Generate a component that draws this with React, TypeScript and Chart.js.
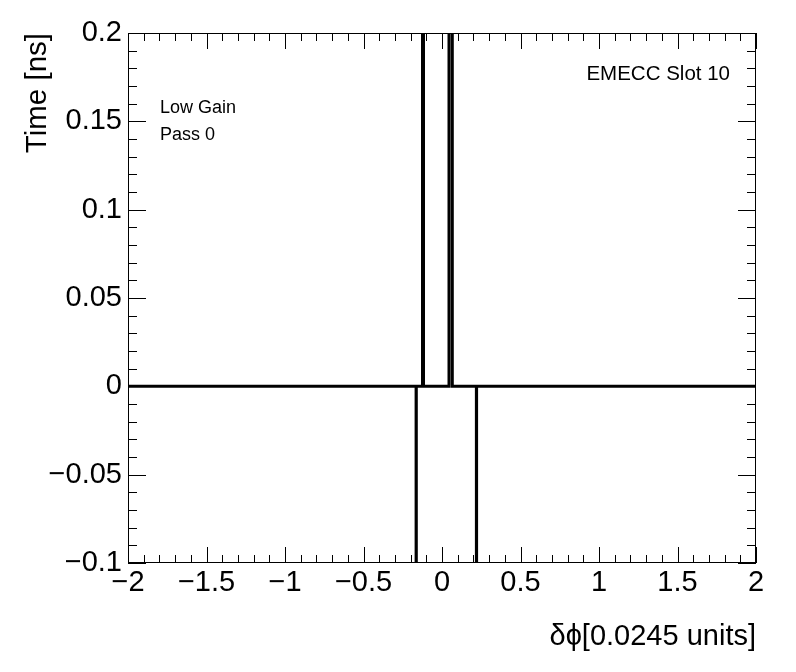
import React, { useEffect, useRef } from "react";
import { Chart, registerables } from "chart.js";

Chart.register(...registerables);

// Histogram bins that are non-zero (edges in δφ units, values off-scale)
const binLo = [-0.1650, -0.1242, 0.0446, 0.2190];
const binHi = [-0.1630, -0.1178, 0.0656, 0.2210];
const binVal = [-1.0, 1.0, 1.0, -1.0];

const xRange = [-2, 2];
const yRange = [-0.1, 0.2];
const xStep = 0.5;
const yStep = 0.05;

const xTitle = "δϕ[0.0245 units]";
const yTitle = "Time [ns]";
const labelsLeft = ["Low Gain", "Pass 0"];
const labelRight = "EMECC Slot 10";

const FONT = "'Liberation Sans', Arimo, Helvetica, Arial, sans-serif";

function fmt(v: number): string {
  const s = String(Number(v.toFixed(4)));
  return s.replace("-", "\u2212");
}

function buildPoints() {
  const pts: { x: number; y: number }[] = [{ x: xRange[0], y: 0 }];
  for (let i = 0; i < binLo.length; i++) {
    pts.push({ x: binLo[i], y: 0 });
    pts.push({ x: binLo[i], y: binVal[i] });
    pts.push({ x: binHi[i], y: binVal[i] });
    pts.push({ x: binHi[i], y: 0 });
  }
  pts.push({ x: xRange[1], y: 0 });
  return pts;
}

const framePlugin = {
  id: "rootFrame",
  afterDatasetsDraw(chart: any) {
    const { ctx, chartArea: a, scales } = chart;
    const xs = scales.x;
    const ys = scales.y;
    ctx.save();
    ctx.strokeStyle = "#000";
    ctx.lineWidth = 1;
    ctx.strokeRect(Math.round(a.left) + 0.5, Math.round(a.top) + 0.5, Math.round(a.right - a.left) - 1, Math.round(a.bottom - a.top) - 1);
    ctx.beginPath();
    const nx = Math.round((xRange[1] - xRange[0]) / 0.1);
    for (let i = 0; i <= nx; i++) {
      const v = xRange[0] + i * 0.1;
      const px = Math.round(xs.getPixelForValue(v)) + 0.5;
      const len = i % 5 === 0 ? 16 : 8;
      ctx.moveTo(px, a.bottom);
      ctx.lineTo(px, a.bottom - len);
      ctx.moveTo(px, a.top);
      ctx.lineTo(px, a.top + len);
    }
    const ny = Math.round((yRange[1] - yRange[0]) / 0.01);
    for (let i = 0; i <= ny; i++) {
      const v = yRange[0] + i * 0.01;
      const py = Math.round(ys.getPixelForValue(v)) + 0.5;
      const len = i % 5 === 0 ? 18 : 9;
      ctx.moveTo(a.left, py);
      ctx.lineTo(a.left + len, py);
      ctx.moveTo(a.right, py);
      ctx.lineTo(a.right - len, py);
    }
    ctx.stroke();
    ctx.fillStyle = "#000";
    ctx.textBaseline = "middle";
    ctx.font = `18px ${FONT}`;
    ctx.textAlign = "left";
    ctx.fillText(labelsLeft[0], 160, 108);
    ctx.fillText(labelsLeft[1], 160, 135);
    ctx.font = `20.5px ${FONT}`;
    ctx.textAlign = "right";
    ctx.fillText(labelRight, 730, 74);
    ctx.restore();
  },
};

export default function App() {
  const ref = useRef<HTMLCanvasElement | null>(null);
  useEffect(() => {
    if (!ref.current) return;
    const chart = new Chart(ref.current, {
      type: "scatter",
      data: {
        datasets: [
          {
            data: buildPoints(),
            showLine: true,
            borderColor: "#000",
            borderWidth: 3,
            pointRadius: 0,
            fill: false,
            tension: 0,
            clip: 0,
          } as any,
        ],
      },
      options: {
        animation: false,
        responsive: false,
        events: [],
        layout: { padding: { left: 0, top: 33, right: 40, bottom: 0 } },
        plugins: { legend: { display: false }, tooltip: { enabled: false } },
        scales: {
          x: {
            type: "linear",
            min: xRange[0],
            max: xRange[1],
            grid: { display: false, drawTicks: false },
            border: { display: false },
            ticks: {
              stepSize: xStep,
              autoSkip: false,
              maxRotation: 0,
              padding: 3,
              color: "#000",
              font: { family: FONT, size: 29 },
              callback: (v: any) => fmt(Number(v)),
            },
            title: {
              display: true,
              text: xTitle,
              align: "end",
              color: "#000",
              font: { family: FONT, size: 29 },
              padding: { top: 0, bottom: 18 },
            },
            afterFit: (s: any) => {
              s.height = 672 - 563;
            },
          },
          y: {
            type: "linear",
            min: yRange[0],
            max: yRange[1],
            grid: { display: false, drawTicks: false },
            border: { display: false },
            ticks: {
              stepSize: yStep,
              autoSkip: false,
              padding: 6,
              color: "#000",
              font: { family: FONT, size: 29 },
              callback: (v: any) => fmt(Number(v)),
            },
            title: {
              display: true,
              text: yTitle,
              align: "end",
              color: "#000",
              font: { family: FONT, size: 29.5 },
              padding: { top: 20, bottom: 0 },
            },
            afterFit: (s: any) => {
              s.width = 128;
            },
          },
        },
      },
      plugins: [framePlugin],
    });
    return () => chart.destroy();
  }, []);
  return (
    <div style={{ position: "fixed", left: 0, top: 0, width: 796, height: 672, background: "#fff" }}>
      <canvas ref={ref} width={796} height={672} style={{ display: "block" }} />
    </div>
  );
}
